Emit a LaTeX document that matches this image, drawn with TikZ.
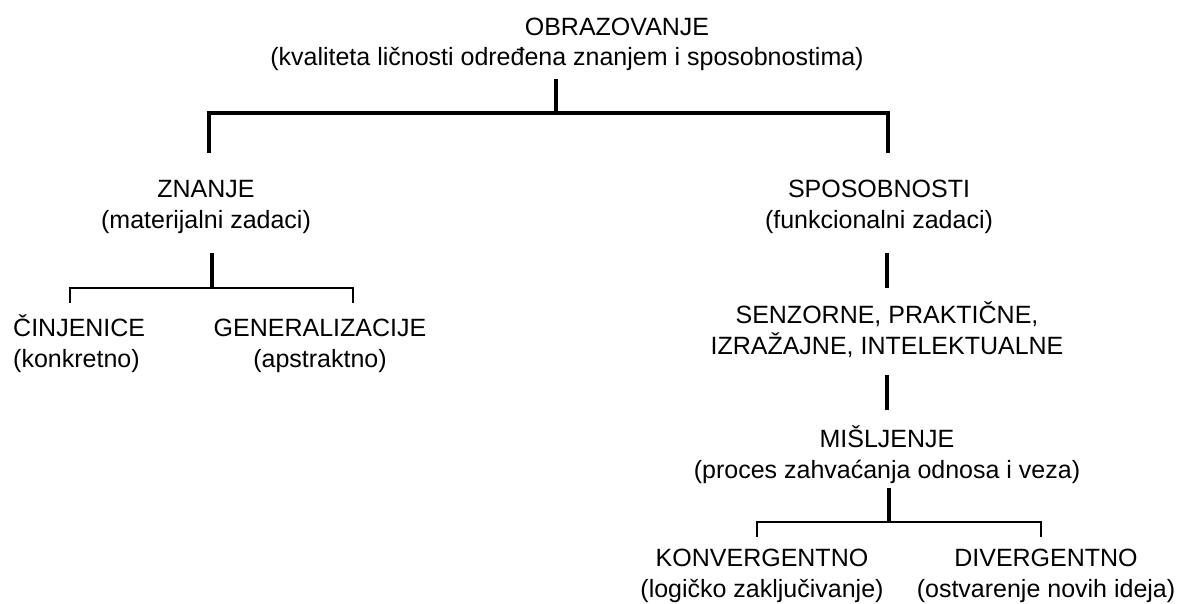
\documentclass[tikz,border=0pt]{standalone}
\usepackage{fontspec}
\setmainfont{Liberation Sans}
\begin{document}
\begin{tikzpicture}[x=1pt, y=-1pt, line join=miter,
main line/.style={line width=4.5pt},
stem line/.style={line width=4pt},
sub line/.style={line width=2pt},
label node/.style={font=\fontsize{25}{30.5}\selectfont, align=center, anchor=base, inner sep=0pt}]
\useasboundingbox (0,0) rectangle (1183,603);
\begin{scope}[every node/.style={label node}]
\node (obr) at (617,35) {OBRAZOVANJE};
\node (obrnote) at (567,65) {(kvaliteta ličnosti određena znanjem i sposobnostima)};
\node (znanje) at (206,228) {ZNANJE\\(materijalni zadaci)};
\node (sposob) at (879,228) {SPOSOBNOSTI\\(funkcionalni zadaci)};
\node[anchor=base west, align=left] (cinj) at (13,367) {ČINJENICE\\(konkretno)};
\node (gen) at (320,367) {GENERALIZACIJE\\(apstraktno)};
\node (vrste) at (887,354) {SENZORNE, PRAKTIČNE,\\IZRAŽAJNE, INTELEKTUALNE};
\node (misljenje) at (887,478) {MIŠLJENJE\\(proces zahvaćanja odnosa i veza)};
\node (konv) at (762,597) {KONVERGENTNO\\(logičko zaključivanje)};
\node (div) at (1046,597) {DIVERGENTNO\\(ostvarenje novih ideja)};
\end{scope}
% top bracket
\coordinate (obrstem) at (556,79);
\coordinate (obrjoin) at (556,113);
\coordinate (znleg) at (209,153);
\coordinate (spleg) at (888,153);
\draw[main line] (obrstem) -- (obrjoin);
\draw[main line] (znleg) |- (obrjoin) -| (spleg);
% znanje
\coordinate (znstem) at (212,253);
\coordinate (znjoin) at (212,288);
\coordinate (cinleg) at (70,303);
\coordinate (genleg) at (353,303);
\draw[stem line] (znstem) -- (znjoin);
\draw[sub line] (cinleg) |- (znjoin) -| (genleg);
% sposobnosti
\coordinate (spstem) at (887,253);
\coordinate (vrtop) at (887,288);
\coordinate (vrstem) at (887,375);
\coordinate (mstop) at (887,410);
\draw[stem line] (spstem) -- (vrtop);
\draw[stem line] (vrstem) -- (mstop);
% misljenje
\coordinate (msstem) at (889,488);
\coordinate (msjoin) at (889,522);
\coordinate (konvleg) at (757,537);
\coordinate (divleg) at (1041,537);
\draw[stem line] (msstem) -- (msjoin);
\draw[sub line] (konvleg) |- (msjoin) -| (divleg);
\end{tikzpicture}
\end{document}
